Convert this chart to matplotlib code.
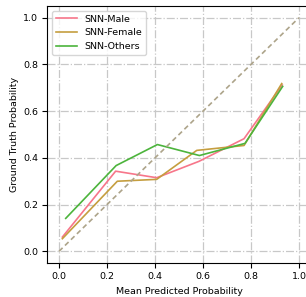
import numpy as np
import matplotlib
matplotlib.use("Agg")
import matplotlib.pyplot as plt

# calibration curves (mean predicted prob, fraction of positives)
male_x = [0.014, 0.236, 0.407, 0.583, 0.771, 0.930]
male_y = [0.061, 0.343, 0.315, 0.385, 0.482, 0.712]
female_x = [0.014, 0.243, 0.407, 0.574, 0.771, 0.928]
female_y = [0.054, 0.300, 0.308, 0.432, 0.453, 0.718]
others_x = [0.028, 0.238, 0.410, 0.585, 0.775, 0.932]
others_y = [0.141, 0.367, 0.457, 0.410, 0.462, 0.706]

labels = ['SNN-Male', 'SNN-Female', 'SNN-Others']
colors = ['#f7768a', '#c59e3f', '#4cb43c']
ticks = [0.0, 0.2, 0.4, 0.6, 0.8, 1.0]

fs = 6.8
fig = plt.figure(figsize=(3.06, 2.97), dpi=100)
# axes runs a bit past the right edge, like the original crop
ax = fig.add_axes([47/306, 34/297, 264/306, 257/297])

ax.plot(male_x, male_y, color=colors[0], lw=1.2, label=labels[0])
ax.plot(female_x, female_y, color=colors[1], lw=1.2, label=labels[1])
ax.plot(others_x, others_y, color=colors[2], lw=1.2, label=labels[2])
ax.plot([0, 1], [0, 1], linestyle=(0, (3, 2)), color='#ada48a', lw=1.2)

ax.set_xlim(-0.05, 1.05)
ax.set_ylim(-0.05, 1.05)
ax.set_xticks(ticks)
ax.set_yticks(ticks)
ax.grid(True, linestyle='-.', color='#c8c8c8', lw=0.9)
ax.tick_params(labelsize=fs, length=3.5, pad=3)
ax.set_xlabel('Mean Predicted Probability', fontsize=fs)
ax.set_ylabel('Ground Truth Probability', fontsize=fs, labelpad=3)
ax.legend(loc='upper left', fontsize=fs, handlelength=2.3, borderaxespad=0.5)

fig.savefig('out.png', dpi=100)
